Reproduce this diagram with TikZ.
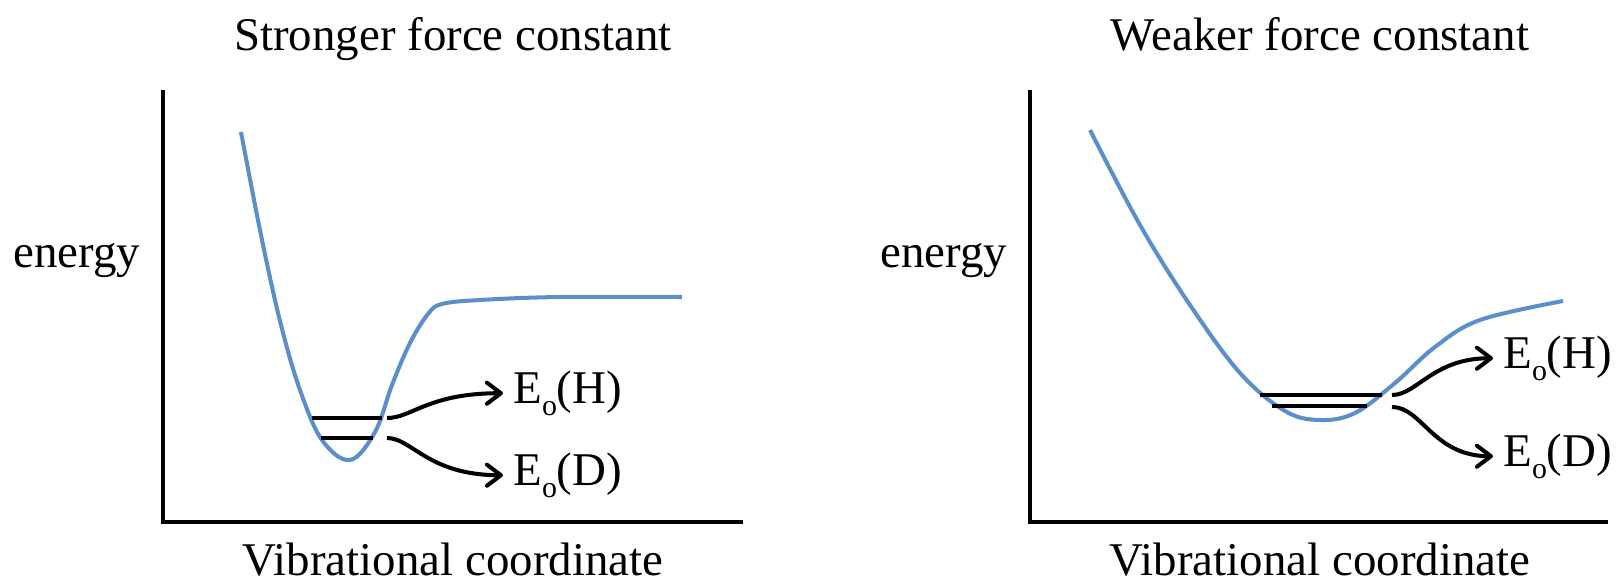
\documentclass[tikz,border=0pt]{standalone}
\usepackage{fontspec}
\setmainfont{Liberation Serif}
\usetikzlibrary{arrows.meta}
\definecolor{wellblue}{HTML}{5B8FCA}
\newcommand{\zpe}[1]{E\raisebox{-0.27em}{\fontsize{17}{20}\selectfont o}(#1)}

\begin{document}
\begin{tikzpicture}[x=0.02cm, y=-0.02cm,
    lbl/.style={inner sep=0pt, font=\fontsize{26.7}{32}\selectfont},
    axis/.style={line width=2.2pt},
    well/.style={wellblue, line width=2.3pt, smooth, tension=0.6},
    lvl/.style={line width=2.4pt},
    arr/.style={line width=2.3pt, -{Straight Barb[length=8pt,width=12pt,line cap=round,line join=round]}, shorten >=0.2cm}]
  \useasboundingbox (0,0) rectangle (1617,582);

  % stronger force constant
  \node[lbl, anchor=base] (title1) at (453,50) {Stronger force constant};
  \node[lbl, anchor=base west] (energy1) at (13,267) {energy};
  \node[lbl, anchor=base] (coord1) at (453,575) {Vibrational coordinate};
  \draw[axis] (163,90) -- (163,522) -- (743,522);
  \draw[well] plot coordinates {(241,132) (262,240) (281,325) (300,390) (322,440) (350,460) (375,432) (392,385) (410,343) (428,314) (442,304) (480,300) (560,297) (682,297)};
  \draw[lvl] (312,418) -- (382,418);
  \draw[lvl] (321,438) -- (373,438);
  \coordinate (hs1) at (387,418);
  \coordinate (ds1) at (387,438);
  \node[lbl, anchor=base west] (eh1) at (513,403) {\zpe{H}};
  \node[lbl, anchor=base west] (ed1) at (513,485) {\zpe{D}};
  \draw[arr] (hs1) .. controls +(25,0) and +(-85,0) .. (eh1.west);
  \draw[arr] (ds1) .. controls +(25,0) and +(-85,0) .. (ed1.west);

  % weaker force constant
  \node[lbl, anchor=base] (title2) at (1320,50) {Weaker force constant};
  \node[lbl, anchor=base west] (energy2) at (880,267) {energy};
  \node[lbl, anchor=base] (coord2) at (1320,575) {Vibrational coordinate};
  \draw[axis] (1030,90) -- (1030,522) -- (1608,522);
  \draw[well] plot coordinates {(1090,130) (1140,225) (1190,305) (1240,373) (1285,411) (1320,420) (1355,413) (1395,383) (1435,347) (1480,320) (1563,301)};
  \draw[lvl] (1260,395) -- (1382,395);
  \draw[lvl] (1272,406) -- (1367,406);
  \coordinate (hs2) at (1392,395);
  \coordinate (ds2) at (1392,407);
  \node[lbl, anchor=base west] (eh2) at (1503,368) {\zpe{H}};
  \node[lbl, anchor=base west] (ed2) at (1503,466) {\zpe{D}};
  \draw[arr] (hs2) .. controls +(25,0) and +(-70,0) .. (eh2.west);
  \draw[arr] (ds2) .. controls +(30,0) and +(-70,0) .. (ed2.west);
\end{tikzpicture}
\end{document}
